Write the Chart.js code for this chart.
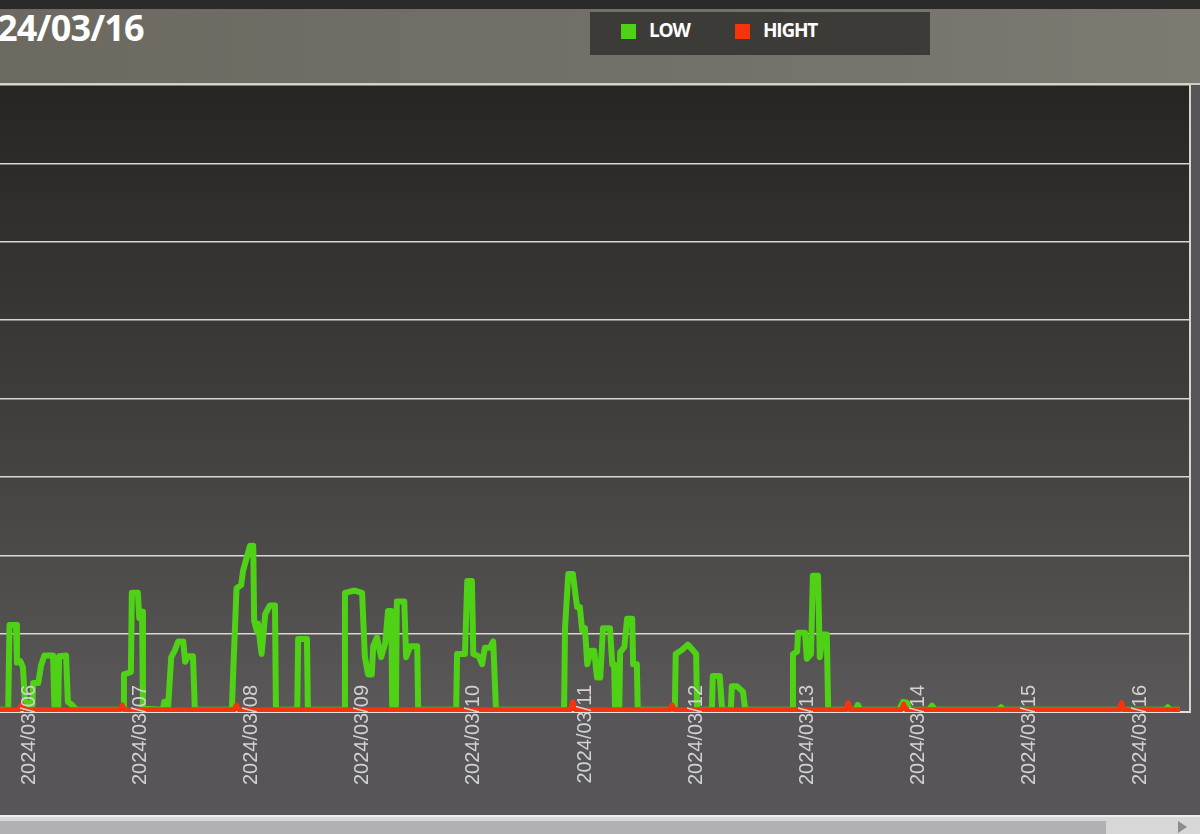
<!DOCTYPE html>
<html>
<head>
<meta charset="utf-8">
<script src="https://cdn.jsdelivr.net/npm/chart.js@4.4.1/dist/chart.umd.min.js"></script>
<style>
  html, body { margin: 0; padding: 0; }
  body {
    width: 1200px; height: 834px; overflow: hidden; position: relative;
    background: #575558; font-family: "Open Sans", sans-serif;
  }
  #topStrip { position: absolute; left: 0; top: 0; width: 1200px; height: 9px; background: #2b2a2b; }
  #header {
    position: absolute; left: 0; top: 9px; width: 1200px; height: 74px;
    background: linear-gradient(90deg, #6c6961 0%, #74716a 60%, #7d7a72 100%);
    border-bottom: 2px solid #cfcdc4;
  }
  #title {
    position: absolute; left: -3px; top: -6px; color: #fff;
    font: bold 36px "Open Sans", sans-serif; letter-spacing: -0.8px;
  }
  #legend {
    position: absolute; left: 590px; top: 3px; width: 340px; height: 43px;
    background: #3d3b37; color: #fff;
  }
  .item { position: absolute; top: 7px; font: bold 19px "Open Sans", sans-serif; letter-spacing: -1.2px; line-height: 22px; }
  .item span { display: inline-block; width: 15px; height: 15px; margin-right: 13px; vertical-align: -2px; }
  #chartBox { position: absolute; left: -59px; top: 83px; width: 1259px; height: 732px; }
  #scroll { position: absolute; left: 0; top: 815px; width: 1200px; height: 19px; background: #d7d7d7; border-top: 2px solid #eeeeee; }
  #thumb { position: absolute; left: 0; top: 4px; width: 1106px; height: 13px; background: #b1b0b2; }
  #arrow { position: absolute; left: 1178px; top: 4px; width: 0; height: 0; border-left: 9px solid #8c8c8c; border-top: 6px solid transparent; border-bottom: 6px solid transparent; }
</style>
</head>
<body>
<div id="topStrip"></div>
<div id="header">
  <div id="title">24/03/16</div>
  <div id="legend"></div>
</div>
<div id="chartBox"><canvas id="lineChart"></canvas></div>
<div id="scroll"><div id="thumb"></div><div id="arrow"></div></div>
<script>
// hours counted from 2024/03/06 00:00
const dayLabels = ['2024/03/06', '2024/03/07', '2024/03/08', '2024/03/09', '2024/03/10', '2024/03/11',
  '2024/03/12', '2024/03/13', '2024/03/14', '2024/03/15', '2024/03/16'];
const seriesNames = ['LOW', 'HIGHT'];
const seriesColors = ['#4fd215', '#f5330c'];

const lowHours = [-8, -4.3, -4.0, -2.6, -2.4, -1.7, -1.1, -0.6, 0.4, 0.9, 1.1, 2.2, 2.8, 3.5, 5.4, 5.7, 6.5, 6.7, 8.2, 8.6, 9.5, 10.4,
  20.5, 20.7, 22.2, 22.4, 23.7, 24.0, 24.6, 24.8,
  29.1, 29.4, 30.0, 30.2, 30.9, 31.7, 32.4, 33.5, 33.9, 34.5, 35.6, 36.0,
  44.0, 44.2, 45.0, 46.0, 46.4, 47.9, 48.6, 48.8, 49.4, 49.6, 50.4, 51.2, 52.2, 53.3, 53.5,
  58.1, 58.3, 60.2, 60.4,
  68.2, 68.4, 70.5, 72.1, 72.7, 73.4, 74.2, 74.5, 75.3, 76.2, 77.1, 77.7, 78.4, 78.6,
  79.4, 79.6, 81.2, 81.6, 82.5, 84.0, 84.2,
  92.4, 92.6, 94.3, 94.8, 95.8, 96.1, 97.3, 98.0, 98.6, 99.7, 100.4, 101.0,
  115.7, 115.9, 116.6, 117.6, 118.5, 119.1, 119.6, 120.2, 120.7, 121.5, 122.2, 122.8, 123.5, 124.1, 125.6, 126.1, 126.5, 126.7,
  127.6, 127.8, 128.7, 129.3, 130.4, 130.6, 131.4, 131.6,
  139.6, 139.8, 141.1, 142.4, 143.5, 144.2, 144.4,
  147.6, 147.8, 149.3, 149.8,
  151.7, 151.9, 153.0, 154.3, 154.8,
  164.9, 165.1, 166.0, 166.2, 167.7, 168.1, 169.0, 169.4, 170.5, 170.9, 171.6, 172.4, 172.7,
  178.7, 179.1, 179.6,
  188.0, 188.9, 189.7, 190.2,
  194.5, 195.1, 195.8,
  209.5, 210, 210.5,
  245.5, 246, 246.5, 248.6];
const lowValues = [0.3, 0.3, 11.1, 11.1, 6.3, 6.5, 5.7, 0.5, 1.2, 0.4, 3.7, 3.7, 5.9, 7.2, 7.2, 0.4, 0.4, 7.1, 7.2, 1.3, 0.9, 0.3,
  0.3, 4.8, 5.1, 15.2, 15.2, 12.0, 12.8, 0.4,
  0.3, 1.3, 1.3, 0.3, 7.0, 7.9, 9.0, 9.0, 6.4, 7.1, 7.1, 0.3,
  0.3, 3.9, 15.8, 16.2, 18.0, 21.2, 21.2, 11.6, 10.3, 11.3, 7.4, 12.5, 13.6, 13.6, 0.3,
  0.3, 9.3, 9.3, 0.3,
  0.3, 15.2, 15.5, 15.2, 7.0, 4.8, 4.8, 8.4, 9.5, 7.0, 8.8, 12.9, 12.9, 0.5,
  0.5, 14.1, 14.1, 7.0, 8.4, 8.4, 0.3,
  0.3, 7.4, 7.4, 16.7, 16.7, 7.4, 7.1, 6.1, 8.2, 8.2, 9.0, 0.3,
  0.3, 10.7, 17.6, 17.6, 13.4, 13.4, 10.4, 10.7, 6.1, 7.8, 7.8, 4.4, 4.4, 10.7, 10.7, 6.1, 6.1, 0.3,
  0.3, 7.6, 8.3, 11.9, 11.9, 6.1, 6.1, 0.3,
  0.3, 7.4, 7.9, 8.6, 7.9, 7.4, 0.3,
  0.3, 4.6, 4.6, 0.3,
  0.3, 3.3, 3.3, 2.6, 0.3,
  0.3, 7.4, 7.7, 10.1, 10.1, 6.8, 7.4, 17.4, 17.4, 7.0, 9.9, 9.9, 0.3,
  0.3, 0.9, 0.3,
  0.3, 1.3, 1.2, 0.3,
  0.3, 0.8, 0.3,
  0.3, 0.6, 0.3,
  0.3, 0.6, 0.3, 0.3];

const highHours = [-8, -2, -1.3, -0.6, 19.8, 20.3, 20.8, 44.5, 45, 45.5, 117, 117.6, 118.2, 138.5, 139, 139.5,
  176.5, 177, 177.5, 188.5, 189, 189.5, 235.5, 236, 236.5, 248.6];
const highValues = [0.3, 0.3, 1.0, 0.3, 0.3, 0.9, 0.3, 0.3, 0.9, 0.3, 0.3, 1.3, 0.3, 0.3, 0.9, 0.3,
  0.3, 1.2, 0.3, 0.3, 1.0, 0.3, 0.3, 1.2, 0.3, 0.3];

const yTicks = [0, 10, 20, 30, 40, 50, 60, 70, 80];

// html legend
const legendEl = document.getElementById('legend');
const legendLeft = [31, 145];
seriesNames.forEach((name, i) => {
  const d = document.createElement('div');
  d.className = 'item';
  d.style.left = legendLeft[i] + 'px';
  d.innerHTML = '<span style="background:' + seriesColors[i] + '"></span>' + name;
  legendEl.appendChild(d);
});

const plotBackground = {
  id: 'plotBackground',
  beforeDraw(chart) {
    const { ctx, chartArea: a } = chart;
    const g = ctx.createLinearGradient(0, a.top, 0, a.bottom);
    g.addColorStop(0, '#272522');
    g.addColorStop(0.5, '#3f3d3b');
    g.addColorStop(1, '#5a5858');
    ctx.save();
    ctx.fillStyle = g;
    ctx.fillRect(a.left, a.top, a.right - a.left, a.bottom - a.top);
    ctx.restore();
  },
  afterDatasetsDraw(chart) {
    const { ctx, chartArea: a } = chart;
    ctx.save();
    ctx.strokeStyle = '#d6d4cf';
    ctx.lineWidth = 2;
    ctx.beginPath();
    ctx.moveTo(a.right, a.top);
    ctx.lineTo(a.right, a.bottom);
    ctx.stroke();
    ctx.restore();
  }
};

const toPoints = (xs, ys) => xs.map((x, i) => ({ x: x, y: ys[i] }));

new Chart(document.getElementById('lineChart'), {
  type: 'line',
  data: {
    datasets: [
      {
        label: seriesNames[0],
        data: toPoints(lowHours, lowValues),
        borderColor: seriesColors[0],
        borderWidth: 6,
        borderJoinStyle: 'round',
        pointRadius: 0,
        tension: 0,
        order: 2
      },
      {
        label: seriesNames[1],
        data: toPoints(highHours, highValues),
        borderColor: seriesColors[1],
        borderWidth: 5,
        borderJoinStyle: 'round',
        pointRadius: 0,
        tension: 0,
        order: 1
      }
    ]
  },
  plugins: [plotBackground],
  options: {
    responsive: true,
    maintainAspectRatio: false,
    animation: false,
    layout: { padding: { top: 2, right: 10, left: 0, bottom: 0 } },
    plugins: {
      legend: { display: false },
      tooltip: { enabled: false }
    },
    scales: {
      x: {
        type: 'linear',
        min: -8,
        max: 250.8,
        afterBuildTicks: scale => {
          scale.ticks = dayLabels.map((l, i) => ({ value: i * 24 }));
        },
        afterFit: scale => { scale.height = 103; },
        grid: { display: false, drawTicks: false },
        border: { display: true, color: '#e4e2de', width: 2 },
        ticks: {
          z: 1,
          autoSkip: false,
          maxRotation: 90,
          minRotation: 90,
          mirror: true,
          padding: 27,
          labelOffset: 25,
          color: '#d2d2d2',
          font: { family: '"Liberation Sans", Arial, sans-serif', size: 20 },
          callback: value => dayLabels[Math.round(value / 24)]
        }
      },
      y: {
        min: 0,
        max: 80,
        afterBuildTicks: scale => {
          scale.ticks = yTicks.map(v => ({ value: v }));
        },
        afterFit: scale => { scale.width = 50; },
        grid: { color: '#d9d7d2', lineWidth: 1.5, drawTicks: false },
        border: { display: false },
        ticks: { display: false }
      }
    }
  }
});
</script>
</body>
</html>
